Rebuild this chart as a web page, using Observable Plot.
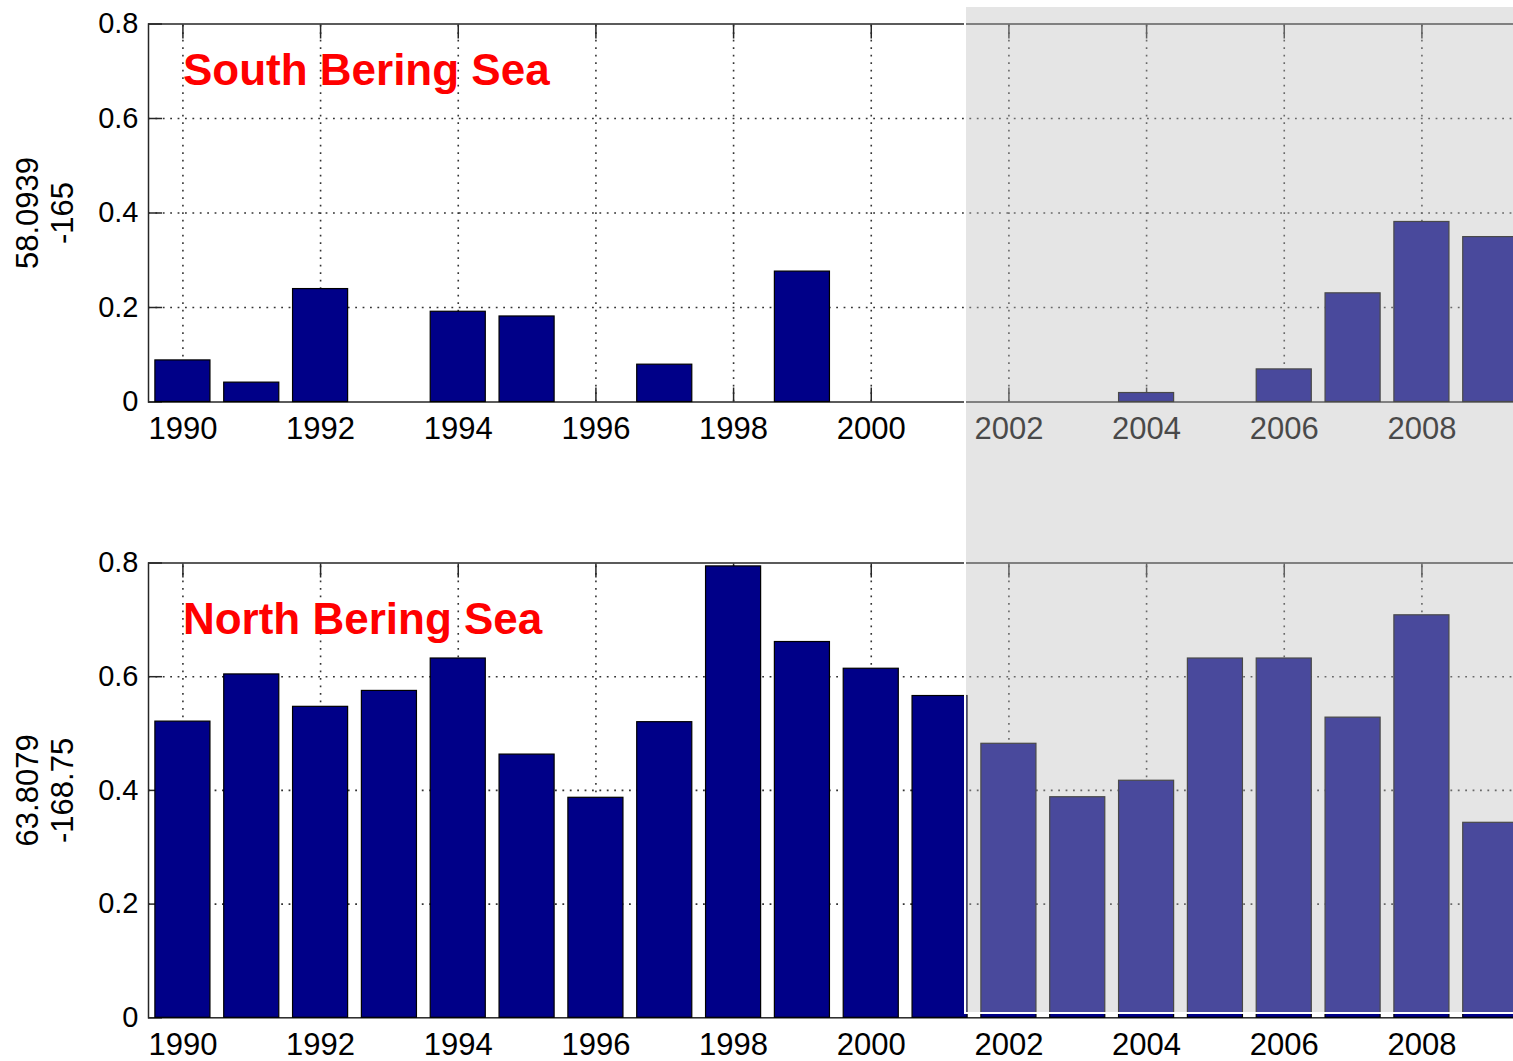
<!DOCTYPE html>
<html>
<head>
<meta charset="utf-8">
<script src="https://cdn.jsdelivr.net/npm/d3@7"></script>
<script src="https://cdn.jsdelivr.net/npm/@observablehq/plot@0.6"></script>
<style>
  html, body { margin: 0; padding: 0; background: #fff; overflow: hidden; }
  #figure { position: relative; width: 1513px; height: 1061px; overflow: hidden; }
  .panel { position: absolute; left: 0; }
  #shade {
    position: absolute;
    background: rgba(189, 189, 189, 0.39);
    border-left: 2px solid #fff;
    border-bottom: 2px solid #fff;
    box-sizing: border-box;
  }
</style>
</head>
<body>
<div id="figure"></div>
<script>
// Annual values, 1990–2009
const years = [1990, 1991, 1992, 1993, 1994, 1995, 1996, 1997, 1998, 1999,
               2000, 2001, 2002, 2003, 2004, 2005, 2006, 2007, 2008, 2009];
const southValues = [0.088, 0.041, 0.239, 0, 0.191, 0.181, 0, 0.079, 0, 0.276,
                     0, 0, 0, 0, 0.019, 0, 0.069, 0.230, 0.381, 0.349];
const northValues = [0.521, 0.604, 0.547, 0.575, 0.632, 0.463, 0.387, 0.520, 0.794, 0.661,
                     0.614, 0.566, 0.482, 0.388, 0.417, 0.632, 0.632, 0.528, 0.708, 0.343];

// Axis ticks and their labels
const yTicks = [0, 0.2, 0.4, 0.6, 0.8];
const yTickLabels = ["0", "0.2", "0.4", "0.6", "0.8"];
const xTicks = [1990, 1992, 1994, 1996, 1998, 2000, 2002, 2004, 2006, 2008];
const xTickLabels = ["1990", "1992", "1994", "1996", "1998", "2000", "2002", "2004", "2006", "2008"];

// Panel titles and station coordinates (lat / lon)
const southTitle = "South Bering Sea";
const northTitle = "North Bering Sea";
const southPosition = ["58.0939", "-165"];
const northPosition = ["63.8079", "-168.75"];

// Start of the shaded recent period
const shadedFrom = 2001.37;

const FONT = "'Liberation Sans', Arial, Helvetica, sans-serif";
const INK = "#262626";

function panel({values, title, position, top, height, marginTop, marginBottom}) {
  const data = years.map((year, i) => ({year, value: values[i]}));
  const chart = Plot.plot({
    width: 1593.5,
    height,
    marginLeft: 148,
    marginRight: 0,
    marginTop,
    marginBottom,
    style: {fontFamily: FONT, background: "transparent", maxWidth: "none", overflow: "visible", color: "#000"},
    x: {domain: [1989.5, 2010.5], axis: null},
    y: {domain: [0, 0.8], axis: null},
    marks: [
      // dotted grid
      Plot.ruleY(yTicks.slice(1, -1), {stroke: "#333", strokeWidth: 1.6, strokeDasharray: "1.8,5.6"}),
      Plot.ruleX(xTicks, {y1: 0, y2: 0.8, stroke: "#333", strokeWidth: 1.6, strokeDasharray: "1.8,5.7"}),
      // inward tick marks
      Plot.axisY(yTicks, {anchor: "left", tickSize: -14, fill: "none", stroke: INK, strokeWidth: 1.5, label: null}),
      Plot.axisX(xTicks, {anchor: "top", tickSize: -14, fill: "none", stroke: INK, strokeWidth: 1.5, label: null}),
      Plot.axisX(xTicks, {anchor: "bottom", tickSize: -14, fill: "none", stroke: INK, strokeWidth: 1.5, label: null}),
      Plot.frame({stroke: INK, strokeWidth: 1.5}),
      // bars, 0.8 year wide
      Plot.rectY(data, {
        x1: d => d.year - 0.4,
        x2: d => d.year + 0.4,
        y: "value",
        fill: "#000088",
        stroke: "#000",
        strokeWidth: 1.2
      }),
      // tick labels
      Plot.axisY(yTicks, {
        anchor: "left", tickSize: 0, tickPadding: 10, fontSize: 29, fill: "#000", label: null,
        tickFormat: d => yTickLabels[yTicks.indexOf(d)]
      }),
      Plot.axisX(xTicks, {
        anchor: "bottom", tickSize: 0, tickPadding: 15, fontSize: 31, fill: "#000", label: null,
        tickFormat: d => xTickLabels[xTicks.indexOf(d)]
      }),
      // panel title
      Plot.text([title], {
        x: 1990, y: 0.7, text: d => d, textAnchor: "start",
        fill: "#ff0000", fontWeight: "bold", fontSize: 44
      }),
      // station coordinates as a two-line rotated label
      Plot.text([position.join("\n")], {
        frameAnchor: "left", rotate: -90, text: d => d, textAnchor: "middle",
        fontSize: 31, lineHeight: 1.13, dx: -104.5, fill: "#000"
      })
    ]
  });
  chart.classList.add("panel");
  chart.style.top = top + "px";
  return chart;
}

const figure = document.getElementById("figure");

const south = panel({
  values: southValues, title: southTitle, position: southPosition,
  top: 0, height: 460, marginTop: 23.5, marginBottom: 58.5
});
const north = panel({
  values: northValues, title: northTitle, position: northPosition,
  top: 500, height: 561, marginTop: 62.5, marginBottom: 43.7
});
figure.append(south, north);

// shaded recent period spanning both panels
const shade = document.createElement("div");
shade.id = "shade";
const shadeLeft = south.scale("x").apply(shadedFrom) - 1;
const shadeTop = 7;
const shadeBottom = 500 + north.scale("y").apply(0) - 3;
shade.style.left = shadeLeft + "px";
shade.style.top = shadeTop + "px";
shade.style.width = (1513 - shadeLeft + 20) + "px";
shade.style.height = (shadeBottom - shadeTop) + "px";
figure.append(shade);
</script>
</body>
</html>
